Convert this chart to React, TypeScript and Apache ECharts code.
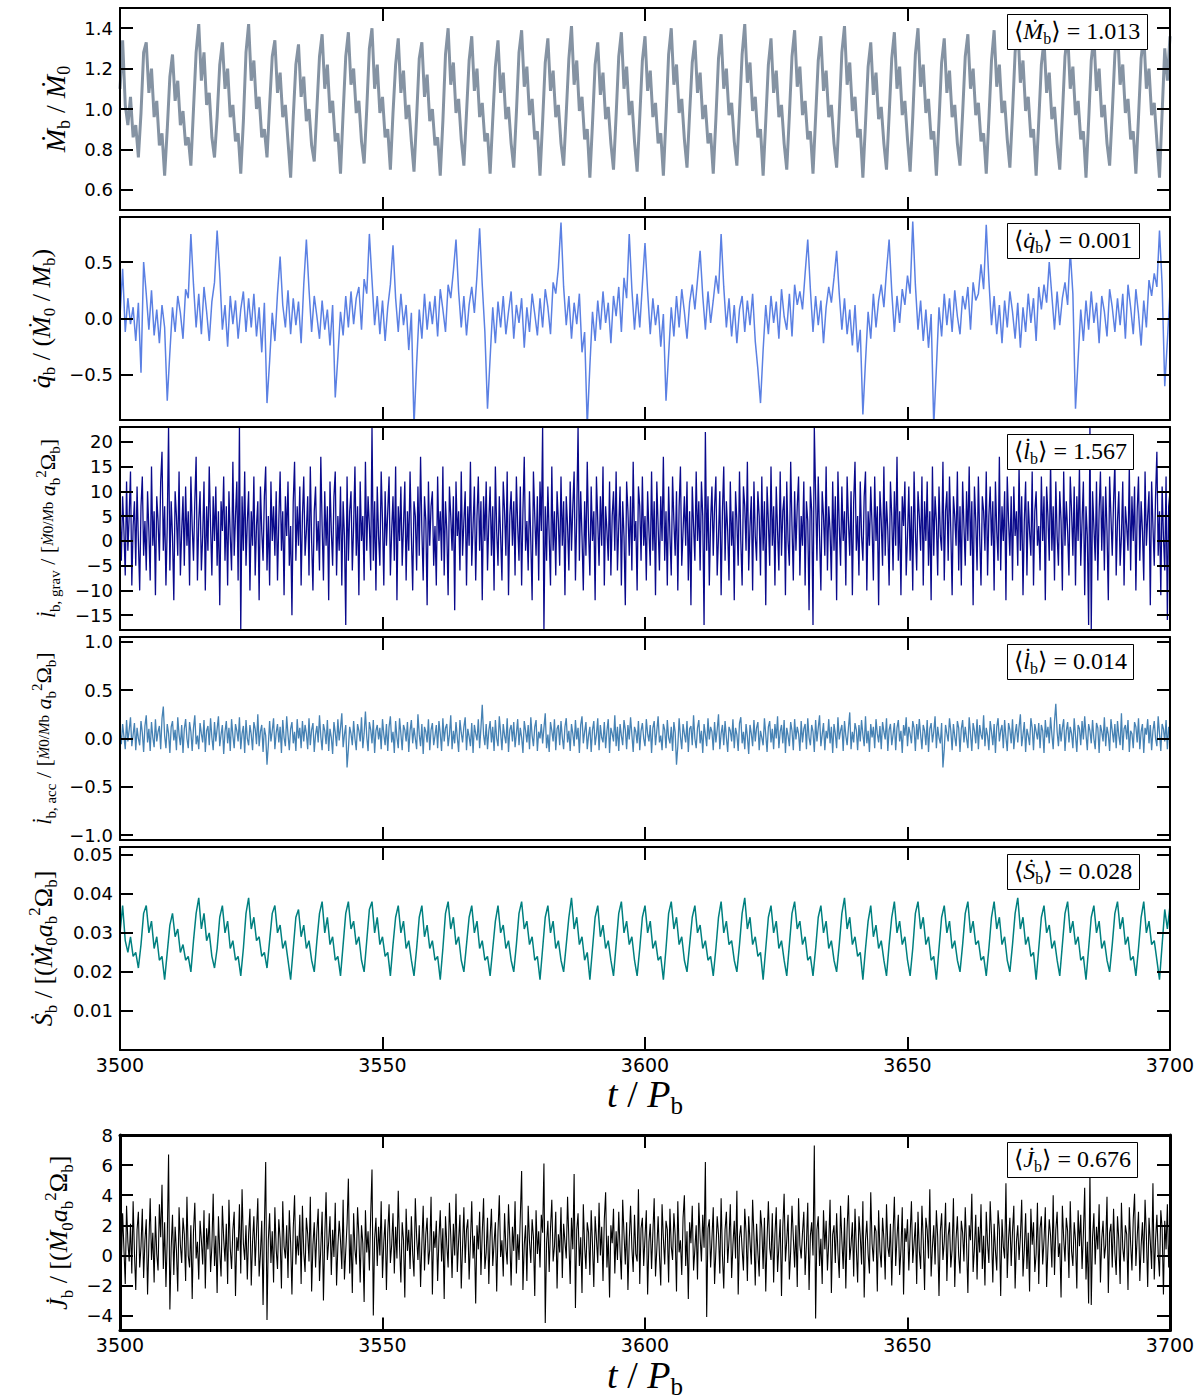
import React, { useEffect, useRef } from "react";
import * as echarts from "echarts";

// time axis
const T0 = 3500;
const X_MIN = 3500;
const X_MAX = 3700;
const X_STEP = 50;
const DT_COARSE = 0.5;  // sampling step of mdot, qdot, sdot
const DT_FINE = 0.25;   // sampling step of lgrav, lacc, jdot

// accretion rate  Mdot_b / Mdot_0   (one line per accretion cycle)
const mdot = [
  1.10,1.34,1.02,0.92,1.06,0.86,0.92,
  0.76,0.98,1.28,1.33,1.08,1.20,0.96,1.04,0.82,0.88,
  0.67,0.90,1.16,1.27,1.04,1.14,0.92,0.99,0.82,0.86,
  0.72,1.00,1.28,1.42,1.14,1.28,1.02,1.08,0.86,
  0.76,0.96,1.22,1.33,1.10,1.20,0.96,1.02,0.84,0.88,
  0.68,0.94,1.28,1.42,1.14,1.24,1.00,1.06,0.86,0.90,
  0.76,1.02,1.26,1.34,1.08,1.18,0.96,1.02,0.84,
  0.66,0.96,1.22,1.32,1.06,1.16,0.94,1.00,0.82,
  0.74,1.00,1.26,1.37,1.10,1.22,0.98,1.04,0.84,0.88,
  0.68,0.98,1.26,1.38,1.12,1.20,0.98,1.04,0.84,
  0.73,1.00,1.30,1.40,1.10,1.22,0.98,1.06,0.86,0.90,
  0.70,0.98,1.22,1.35,1.08,1.19,0.95,1.02,0.84,
  0.69,0.96,1.25,1.33,1.06,1.17,0.94,1.00,0.82,0.86,
  0.67,0.94,1.27,1.40,1.12,1.23,0.98,1.05,0.85,
  0.72,0.98,1.24,1.36,1.09,1.20,0.96,1.03,0.84,0.88,
  0.68,0.95,1.21,1.34,1.08,1.18,0.95,1.01,0.83,
  0.71,0.98,1.28,1.39,1.11,1.21,0.97,1.05,0.85,0.89,
  0.67,0.94,1.23,1.35,1.09,1.19,0.96,1.02,0.83,
  0.72,0.98,1.25,1.41,1.12,1.24,0.99,1.06,0.85,0.90,
  0.66,0.93,1.22,1.33,1.07,1.18,0.95,1.01,0.83,
  0.70,0.97,1.26,1.38,1.10,1.21,0.97,1.04,0.84,
  0.69,0.96,1.24,1.36,1.09,1.19,0.96,1.03,0.83,0.88,
  0.67,0.96,1.27,1.40,1.12,1.22,0.98,1.05,0.85,
  0.71,0.98,1.23,1.34,1.08,1.18,0.95,1.02,0.83,0.88,
  0.68,0.95,1.25,1.37,1.10,1.20,0.97,1.03,0.84,
  0.72,0.99,1.27,1.42,1.13,1.23,0.99,1.06,0.86,0.90,
  0.67,0.94,1.22,1.35,1.08,1.19,0.96,1.02,0.83,
  0.70,0.97,1.26,1.39,1.11,1.21,0.97,1.04,0.85,0.89,
  0.68,0.96,1.24,1.36,1.09,1.19,0.96,1.02,0.83,
  0.71,0.98,1.28,1.41,1.12,1.23,0.99,1.06,0.86,0.90,
  0.66,0.93,1.21,1.33,1.07,1.18,0.95,1.01,0.83,
  0.70,0.97,1.25,1.38,1.10,1.21,0.97,1.04,0.85,
  0.69,0.96,1.27,1.40,1.11,1.22,0.98,1.05,0.85,0.89,
  0.67,0.94,1.23,1.35,1.08,1.19,0.96,1.02,0.83,
  0.72,0.98,1.26,1.37,1.10,1.20,0.97,1.03,0.84,0.88,
  0.68,0.95,1.24,1.39,1.11,1.22,0.98,1.04,0.85,
  0.71,0.98,1.28,1.42,1.13,1.24,0.99,1.06,0.86,0.90,
  0.67,0.94,1.22,1.34,1.08,1.18,0.95,1.01,0.83,
  0.70,0.97,1.26,1.38,1.10,1.21,0.97,1.04,0.85,0.89,
  0.66,0.94,1.24,1.36,1.09,1.20,0.96,1.02,0.83,
  0.72,0.98,1.27,1.40,1.12,1.22,0.98,1.05,0.85,0.89,
  0.68,0.96,1.25,1.37,1.10,1.20,0.97,1.03,0.84,
  0.66,0.98,1.30,1.14,1.36,
];

// qdot_b / (Mdot_0 / M_b)
const qdot = [
  0.02,0.44,-0.12,0.18,-0.05,0.10,-0.20,0.14,-0.48,0.50,0.22,-0.10,0.25,-0.15,0.08,-0.22,0.12,-0.08,-0.73,-0.30,
  0.10,-0.12,0.20,0.05,-0.18,0.26,0.18,0.75,0.30,-0.08,0.22,-0.14,0.28,0.06,-0.20,0.15,0.32,0.78,0.40,-0.10,
  0.12,-0.25,0.20,-0.05,0.16,-0.18,0.08,0.24,-0.12,0.18,-0.08,0.22,-0.16,0.10,-0.30,0.14,-0.75,-0.38,0.05,-0.20,
  0.22,0.55,0.12,-0.08,0.25,-0.14,0.18,-0.06,0.15,-0.22,0.30,0.70,0.26,-0.12,0.20,0.02,-0.18,0.16,-0.10,0.08,
  -0.24,0.12,-0.70,-0.34,0.06,-0.15,0.20,-0.08,0.24,-0.05,0.18,0.28,-0.10,0.35,0.22,0.75,0.34,-0.06,0.20,-0.14,
  0.16,-0.20,0.10,0.30,0.65,0.18,-0.12,0.22,-0.06,0.12,-0.28,0.05,-0.95,-0.40,0.08,-0.18,0.22,-0.10,0.15,-0.05,
  0.20,-0.16,0.26,0.08,-0.12,0.30,0.18,0.42,0.70,0.24,-0.08,0.20,-0.15,0.12,0.28,0.05,0.38,0.80,0.30,-0.12,
  -0.80,-0.35,0.10,-0.22,0.15,-0.08,0.20,-0.14,0.06,0.24,-0.18,0.12,-0.04,0.18,-0.26,0.10,-0.12,0.22,0.04,-0.15,
  0.18,-0.08,0.26,0.10,-0.14,0.32,0.22,0.45,0.85,0.28,-0.06,0.20,-0.18,0.14,-0.05,0.22,-0.30,-0.12,-0.95,-0.42,
  0.06,-0.20,0.16,-0.10,0.24,-0.04,0.14,-0.22,0.20,0.02,0.28,-0.12,0.36,0.18,0.75,0.26,-0.10,0.22,-0.08,0.30,
  0.67,0.24,-0.14,0.18,-0.06,0.12,-0.25,0.04,-0.73,-0.32,0.10,-0.16,0.20,-0.08,0.26,0.06,-0.18,0.14,0.30,0.08,
  0.34,0.60,0.20,-0.10,0.24,-0.04,0.16,0.38,0.22,0.75,0.28,-0.08,0.18,-0.16,0.12,-0.22,0.08,0.20,-0.12,0.16,
  -0.06,0.22,-0.20,-0.45,-0.75,-0.28,0.12,-0.14,0.20,-0.04,0.15,-0.18,0.26,0.02,-0.10,0.22,-0.16,0.30,0.12,0.24,
  0.08,0.40,0.70,0.26,-0.12,0.20,-0.06,0.16,-0.22,0.10,0.28,0.14,0.36,0.60,0.22,-0.10,0.18,-0.14,0.08,-0.24,
  0.12,-0.30,-0.10,-0.85,-0.38,0.06,-0.18,0.22,-0.08,0.16,0.30,0.10,0.42,0.70,0.24,-0.12,0.20,-0.04,0.26,0.12,
  0.38,0.22,0.86,0.30,-0.10,0.16,-0.20,0.08,-0.26,0.04,-0.95,-0.44,0.10,-0.16,0.22,-0.06,0.18,-0.12,0.25,0.02,
  -0.14,0.20,0.08,0.28,-0.10,0.32,0.16,0.22,0.48,0.26,0.83,0.34,-0.06,0.20,-0.14,0.12,-0.22,0.16,-0.08,0.24,
  0.06,-0.18,0.14,-0.26,0.10,-0.12,0.22,-0.04,0.18,-0.20,0.28,0.08,0.30,0.14,0.50,0.20,-0.10,0.24,-0.06,0.18,
  0.32,0.12,0.60,0.22,-0.80,-0.36,0.08,-0.20,0.16,-0.10,0.24,-0.04,0.14,-0.22,0.20,0.06,-0.16,0.26,0.10,-0.12,
  0.18,-0.06,0.22,-0.18,0.30,0.10,-0.14,0.26,0.04,-0.24,0.16,-0.08,0.34,0.20,0.40,0.28,0.78,0.30,-0.60,-0.20,
  0.24,
];

// gravitational torque  ldot_b,grav  (fine sampling)
const lgrav = [
  6,-4,9,2,-7,12,-2,5,14,-9,3,8,-5,11,0,-10,7,13,-3,4,
  -6,10,2,-8,15,-1,6,-11,9,4,-4,12,18,-2,7,-9,3,23,-6,8,
  1,-12,10,5,-3,14,-7,2,9,-5,11,-1,6,-9,13,3,-4,8,17,-8,
  4,10,-6,1,12,-10,7,-2,15,3,-7,9,0,11,-5,6,-13,8,2,13,
  -4,7,-9,10,1,-6,16,-3,5,12,-8,23,-18,9,-2,14,-5,4,10,-10,
  6,-1,13,-7,3,8,-12,11,2,-4,9,15,-6,5,-9,12,0,7,-3,10,
  -8,4,14,-2,6,-11,9,1,12,-5,3,-15,8,16,-4,7,-1,11,-9,5,
  13,-3,2,9,-7,15,0,-10,6,11,-2,4,-6,17,3,-8,10,-1,7,-12,
  12,2,-5,9,14,-7,5,-2,11,-9,8,1,-17,13,-4,6,10,-6,3,15,
  -3,7,-11,12,0,5,-8,16,-2,9,3,-6,23,-4,8,-10,11,1,-5,14,
  4,-9,10,-1,6,13,-7,2,9,-4,15,-12,7,0,11,-5,3,12,-8,6,
  -2,14,1,-10,8,5,-6,11,-3,17,2,-8,9,4,-13,12,-1,7,10,-5,
  3,-9,13,0,6,-4,15,-7,8,2,-11,11,5,-2,9,-14,12,1,6,-6,
  14,-3,4,10,-9,7,-1,16,-5,3,11,-8,5,13,-2,8,-12,9,0,12,
  -6,4,11,-3,7,-10,15,2,-5,9,1,-8,12,6,-3,14,-11,5,10,-1,
  8,-7,13,3,-4,11,-9,6,17,-2,4,-6,10,0,-12,14,5,-3,9,-8,
  12,2,23,-18,7,-4,11,1,-9,15,-2,6,-7,10,4,-5,13,-1,8,-11,
  9,3,-6,12,-2,7,14,-8,5,23,-4,10,1,-10,8,-3,16,2,-7,11,
  0,6,-12,13,4,-5,9,-1,15,-9,7,2,-4,12,-7,5,10,-2,14,-6,
  3,11,-9,8,1,-13,12,6,-3,9,-6,16,0,4,-10,11,7,-4,13,-1,
  5,-8,10,2,-5,14,-2,8,-11,12,3,-6,9,0,17,-4,6,-9,11,1,
  -7,13,4,-3,10,-10,7,15,-5,2,9,-1,12,-8,6,-13,11,3,-4,14,
  0,8,-6,12,5,-17,22,-2,9,-9,4,11,-3,7,13,-7,1,10,-11,6,
  15,-4,8,2,-8,12,-1,6,-12,10,4,-5,14,0,-9,11,7,-2,16,-6,
  3,9,-10,12,1,-4,10,5,-7,13,-2,8,-13,11,4,-5,15,-1,7,-9,
  11,2,-6,14,-3,6,9,-11,12,0,-5,16,3,-8,10,-2,7,13,-7,5,
  -1,12,-9,8,4,-14,11,6,-17,23,9,-4,13,1,-10,10,5,-3,15,-6,
  7,2,-8,12,-2,9,-12,14,3,-5,11,0,6,-9,13,4,-3,10,-11,8,
  16,-2,5,-7,12,1,-4,9,14,-10,6,-1,11,3,-8,13,0,7,-13,10,
  4,-5,15,-3,8,2,-9,12,5,-6,10,-1,17,-4,6,-11,9,3,12,-7,
  1,11,-4,7,-10,14,2,-6,10,5,-2,13,-9,8,0,12,-5,6,-12,15,
  -3,9,4,-7,11,1,-2,16,-8,6,10,-4,13,2,-11,9,5,-1,14,-6,
  7,-9,12,3,-5,10,0,15,-3,8,-13,11,4,-6,13,1,-9,9,6,-2,
  14,-7,5,11,-1,8,-10,12,2,-4,17,-6,7,0,10,-12,13,4,-3,9,
  -8,11,1,6,-5,15,-2,9,-11,4,12,-7,8,2,-3,14,-9,6,10,-1,
  3,-6,13,0,9,-12,11,5,-4,16,-2,7,-8,12,1,-5,10,4,-10,14,
  -1,8,2,-7,13,6,-3,11,-9,9,0,15,-5,4,12,-11,7,1,-17,23,
  -18,10,3,-4,12,-8,6,14,-2,9,-6,11,2,-12,13,5,-3,8,16,-7,
  4,10,-5,1,12,-9,7,3,-2,15,-6,9,0,11,-10,6,13,-4,8,2,
  -8,14,-1,5,10,-13,12,3,-5,9,18,-3,6,-11,11,1,-6,13,-16,7,
  10,
];

// accretion torque  ldot_b,acc  (fine sampling)
const lacc = [
  0.08,-0.06,0.15,0.02,-0.11,0.19,-0.03,0.09,0.22,-0.08,0.04,0.16,-0.12,0.11,0.00,-0.07,0.18,0.06,-0.14,0.13,
  0.24,-0.04,0.10,-0.13,0.17,0.01,-0.09,0.20,-0.03,0.07,0.13,-0.11,0.21,0.33,0.03,-0.10,0.15,0.05,-0.15,0.12,
  0.18,-0.02,0.09,-0.12,0.22,0.04,-0.07,0.14,-0.15,0.10,0.20,0.00,-0.10,0.17,0.07,-0.13,0.11,0.24,-0.06,0.03,
  -0.11,0.16,0.05,-0.04,0.19,-0.14,0.08,0.13,-0.07,0.21,0.01,-0.12,0.17,-0.03,0.10,0.23,-0.08,0.04,0.14,-0.16,
  0.07,0.18,-0.05,0.11,-0.13,0.20,0.03,-0.10,0.15,0.08,-0.03,0.22,-0.11,0.05,0.13,-0.15,0.19,0.00,-0.07,0.14,
  0.04,-0.12,0.17,0.10,-0.06,0.25,-0.08,0.07,0.14,-0.14,0.11,0.03,-0.27,-0.07,0.18,-0.03,0.08,0.21,-0.11,0.06,
  0.15,-0.04,0.12,-0.15,0.19,0.01,-0.08,0.23,0.04,-0.12,0.10,0.17,-0.05,0.07,-0.13,0.20,0.00,0.11,-0.10,0.18,
  -0.03,0.14,0.05,-0.11,0.21,-0.07,0.09,0.16,-0.14,0.04,0.13,-0.04,0.24,0.02,-0.12,0.15,0.08,-0.06,0.19,-0.13,
  0.10,0.01,-0.16,0.17,0.06,-0.08,0.20,-0.02,0.11,0.26,-0.09,0.04,0.14,-0.30,-0.11,0.12,0.05,-0.07,0.18,0.00,
  -0.12,0.15,0.08,-0.03,0.22,-0.10,0.05,0.28,0.02,-0.13,0.17,0.09,-0.05,0.19,-0.15,0.08,0.14,-0.01,0.11,-0.11,
  0.20,0.04,-0.07,0.15,-0.13,0.12,0.23,-0.04,0.07,-0.15,0.18,0.01,-0.10,0.21,0.05,-0.12,0.14,0.09,-0.03,0.17,
  -0.14,0.08,0.19,-0.05,0.11,0.00,-0.11,0.25,0.04,-0.08,0.15,-0.16,0.12,0.07,-0.04,0.20,-0.12,0.09,0.16,-0.07,
  0.03,0.14,-0.10,0.18,0.05,-0.13,0.21,-0.03,0.11,0.15,-0.08,0.04,0.24,-0.11,0.08,-0.05,0.17,0.01,-0.14,0.19,
  0.06,-0.04,0.12,0.22,-0.12,0.10,0.02,-0.08,0.16,-0.15,0.14,0.05,-0.02,0.20,-0.10,0.11,0.35,0.04,-0.07,0.15,
  -0.11,0.08,0.18,-0.04,0.12,-0.13,0.19,0.00,-0.08,0.23,0.06,-0.12,0.15,0.03,-0.05,0.21,-0.14,0.09,0.14,-0.03,
  0.17,-0.09,0.05,0.20,-0.07,0.11,0.01,-0.15,0.18,0.08,-0.04,0.14,-0.11,0.22,0.03,-0.08,0.12,0.19,-0.13,0.07,
  0.00,0.15,-0.05,0.11,0.26,-0.10,0.04,-0.14,0.17,0.08,-0.03,0.20,-0.12,0.10,0.14,-0.07,0.18,0.01,-0.11,0.12,
  0.21,-0.04,0.08,-0.13,0.15,0.05,-0.08,0.19,-0.01,0.11,-0.15,0.14,0.23,-0.05,0.07,0.17,-0.11,0.03,0.12,-0.14,
  0.09,0.18,-0.07,0.04,0.21,-0.12,0.14,0.01,-0.04,0.17,-0.10,0.08,0.20,-0.15,0.11,0.05,-0.03,0.24,-0.08,0.12,
  -0.13,0.15,0.03,-0.07,0.19,0.09,-0.11,0.14,-0.01,0.22,0.04,-0.14,0.12,0.07,-0.05,0.18,-0.12,0.08,0.16,0.00,
  -0.08,0.20,0.05,-0.03,0.14,-0.15,0.11,0.18,-0.07,0.08,0.23,-0.04,0.03,-0.12,0.15,0.09,-0.10,0.19,0.01,-0.05,
  0.12,-0.13,0.17,0.06,-0.27,-0.08,0.21,0.02,-0.11,0.15,0.05,-0.04,0.18,-0.14,0.10,0.13,-0.07,0.24,0.00,-0.10,
  0.11,0.19,-0.05,0.08,-0.15,0.15,0.04,-0.08,0.21,-0.01,0.12,0.07,-0.12,0.17,-0.04,0.09,0.25,-0.11,0.05,0.14,
  -0.07,0.18,0.01,-0.14,0.12,0.08,-0.03,0.20,-0.10,0.11,0.04,-0.13,0.16,0.22,-0.05,0.07,-0.11,0.15,0.02,-0.16,
  0.14,0.05,-0.08,0.19,-0.03,0.11,0.17,-0.12,0.08,0.01,-0.07,0.21,0.04,-0.14,0.12,0.18,-0.04,0.10,-0.11,0.15,
  0.00,0.23,-0.10,0.07,0.14,-0.05,0.19,-0.15,0.11,0.03,-0.08,0.17,0.08,-0.12,0.20,-0.01,0.12,0.05,-0.13,0.18,
  -0.04,0.10,0.15,-0.11,0.21,0.01,-0.07,0.14,0.07,-0.14,0.19,-0.03,0.11,0.24,-0.08,0.04,0.16,-0.12,0.08,0.00,
  0.20,-0.05,0.12,-0.15,0.15,0.05,-0.10,0.22,-0.01,0.08,0.14,-0.13,0.18,0.03,-0.07,0.11,0.27,-0.11,0.07,-0.04,
  0.16,0.09,-0.12,0.14,-0.03,0.19,0.04,-0.08,0.23,-0.05,0.08,-0.14,0.15,0.01,0.12,-0.10,0.20,0.05,-0.04,0.13,
  -0.11,0.17,0.07,-0.01,0.21,-0.13,0.09,0.15,-0.07,0.04,0.16,-0.12,0.11,0.19,-0.03,0.08,-0.15,0.14,0.03,0.22,
  -0.08,0.12,0.05,-0.05,0.18,0.11,-0.13,0.15,-0.01,0.20,0.04,-0.11,0.14,0.08,-0.07,0.19,-0.14,0.10,0.16,-0.04,
  0.07,0.23,-0.10,0.12,0.01,-0.05,0.16,-0.30,-0.11,0.14,0.05,-0.03,0.21,0.08,-0.12,0.15,0.02,-0.08,0.18,0.11,
  -0.14,0.10,0.19,-0.04,0.12,0.00,-0.10,0.22,0.05,-0.13,0.16,0.08,-0.05,0.20,-0.11,0.14,0.04,-0.01,0.24,-0.08,
  0.11,0.03,-0.12,0.18,0.07,-0.07,0.15,-0.15,0.12,0.21,-0.03,0.08,0.14,-0.10,0.19,0.01,-0.13,0.16,0.09,-0.05,
  0.20,-0.11,0.05,0.15,-0.04,0.12,0.25,-0.08,0.04,0.17,-0.14,0.10,0.03,-0.07,0.21,0.11,-0.12,0.15,0.07,-0.01,
  0.16,-0.10,0.14,0.08,-0.15,0.19,0.01,0.12,-0.05,0.22,0.04,-0.11,0.18,0.36,0.07,-0.08,0.15,-0.03,0.11,0.20,
  -0.13,0.08,0.17,-0.04,0.12,0.05,-0.10,0.21,0.03,-0.14,0.14,0.10,-0.07,0.18,-0.01,0.23,0.04,-0.12,0.15,0.08,
  -0.05,0.19,0.00,-0.11,0.16,0.11,-0.15,0.14,0.07,-0.03,0.22,-0.08,0.12,0.04,-0.13,0.20,0.08,-0.04,0.15,-0.10,
  0.18,0.03,-0.07,0.26,-0.12,0.10,0.14,-0.01,0.19,-0.14,0.08,0.05,-0.10,0.17,0.12,-0.04,0.21,-0.11,0.07,0.15,
  -0.15,0.11,0.04,0.20,-0.05,0.14,-0.12,0.08,0.18,0.00,-0.08,0.23,0.05,-0.13,0.15,0.10,-0.03,0.19,-0.11,0.12,
  0.07,
];

// spin torque  Sdot_b   (one line per accretion cycle)
const sdot = [
  0.030,0.037,0.028,0.025,0.029,0.024,0.025,
  0.021,0.027,0.035,0.037,0.030,0.033,0.026,0.029,0.023,0.024,
  0.018,0.025,0.032,0.035,0.029,0.031,0.025,0.027,0.023,0.024,
  0.020,0.028,0.035,0.039,0.031,0.035,0.028,0.030,0.024,
  0.021,0.026,0.034,0.037,0.030,0.033,0.026,0.028,0.023,0.024,
  0.019,0.026,0.035,0.039,0.031,0.034,0.028,0.029,0.024,0.025,
  0.021,0.028,0.035,0.037,0.030,0.032,0.026,0.028,0.023,
  0.018,0.026,0.034,0.036,0.029,0.032,0.026,0.028,0.023,
  0.020,0.028,0.035,0.038,0.030,0.034,0.027,0.029,0.023,0.024,
  0.019,0.027,0.035,0.038,0.031,0.033,0.027,0.029,0.023,
  0.020,0.028,0.036,0.038,0.030,0.034,0.027,0.029,0.024,0.025,
  0.019,0.027,0.034,0.037,0.030,0.033,0.026,0.028,0.023,
  0.019,0.026,0.034,0.037,0.029,0.032,0.026,0.028,0.023,0.024,
  0.018,0.026,0.035,0.038,0.031,0.034,0.027,0.029,0.023,
  0.020,0.027,0.034,0.037,0.030,0.033,0.026,0.028,0.023,0.024,
  0.019,0.026,0.033,0.037,0.030,0.032,0.026,0.028,0.023,
  0.020,0.027,0.035,0.038,0.031,0.033,0.027,0.029,0.023,0.024,
  0.018,0.026,0.034,0.037,0.030,0.033,0.026,0.028,0.023,
  0.020,0.027,0.034,0.039,0.031,0.034,0.027,0.029,0.023,0.025,
  0.018,0.026,0.034,0.037,0.029,0.032,0.026,0.028,0.023,
  0.019,0.027,0.035,0.038,0.030,0.033,0.027,0.029,0.023,
  0.019,0.026,0.034,0.037,0.030,0.033,0.026,0.028,0.023,0.024,
  0.018,0.026,0.035,0.038,0.031,0.034,0.027,0.029,0.023,
  0.020,0.027,0.034,0.037,0.030,0.032,0.026,0.028,0.023,0.024,
  0.019,0.026,0.034,0.038,0.030,0.033,0.027,0.028,0.023,
  0.020,0.027,0.035,0.039,0.031,0.034,0.027,0.029,0.024,0.025,
  0.018,0.026,0.034,0.037,0.030,0.033,0.026,0.028,0.023,
  0.019,0.027,0.035,0.038,0.031,0.033,0.027,0.029,0.023,0.024,
  0.019,0.026,0.034,0.037,0.030,0.033,0.026,0.028,0.023,
  0.020,0.027,0.035,0.039,0.031,0.034,0.027,0.029,0.024,0.025,
  0.018,0.026,0.033,0.037,0.029,0.032,0.026,0.028,0.023,
  0.019,0.027,0.034,0.038,0.030,0.033,0.027,0.029,0.023,
  0.019,0.026,0.035,0.038,0.031,0.034,0.027,0.029,0.023,0.024,
  0.018,0.026,0.034,0.037,0.030,0.033,0.026,0.028,0.023,
  0.020,0.027,0.035,0.038,0.030,0.033,0.027,0.028,0.023,0.024,
  0.019,0.026,0.034,0.038,0.031,0.034,0.027,0.029,0.023,
  0.020,0.027,0.035,0.039,0.031,0.034,0.027,0.029,0.024,0.025,
  0.018,0.026,0.034,0.037,0.030,0.032,0.026,0.028,0.023,
  0.019,0.027,0.035,0.038,0.030,0.033,0.027,0.029,0.023,0.024,
  0.018,0.026,0.034,0.037,0.030,0.033,0.026,0.028,0.023,
  0.020,0.027,0.035,0.038,0.031,0.034,0.027,0.029,0.023,0.024,
  0.019,0.026,0.034,0.038,0.030,0.033,0.027,0.028,0.023,
  0.018,0.027,0.036,0.031,0.037,
];

// total torque  Jdot_b  (fine sampling)
const jdot = [
  1.2,-0.6,2.8,0.4,-1.9,3.3,0.9,-0.4,2.1,-1.2,3.6,0.2,-2.3,1.7,2.9,-0.8,0.6,3.1,-1.5,1.0,
  2.4,-2.6,0.8,3.8,-0.3,1.5,-1.8,2.6,0.1,-1.0,3.4,1.2,4.7,-0.9,2.2,-2.1,1.1,6.7,-3.6,0.5,
  2.7,-1.3,1.9,0.3,-2.4,3.2,0.7,-0.5,2.5,1.4,-1.7,3.9,0.0,-0.8,2.0,-2.9,1.6,3.5,-0.2,0.9,
  -1.6,2.3,1.0,-0.6,3.0,-2.2,1.8,0.4,2.8,-1.1,0.6,4.1,-0.7,1.3,-2.5,2.6,0.2,-1.4,3.3,1.1,
  -0.4,2.1,-1.9,3.7,0.5,-0.9,1.7,2.9,-2.7,1.2,0.3,3.4,-1.2,4.4,0.8,-0.3,2.0,-1.6,1.4,3.1,
  -2.0,0.9,2.6,-0.7,1.5,3.8,-1.4,0.1,2.3,-3.3,1.9,6.2,-4.3,1.0,2.8,-0.5,1.6,-1.8,3.2,0.4,
  -0.9,2.4,1.1,-2.2,3.6,0.6,-0.2,2.0,-1.5,3.0,0.8,-2.6,1.8,4.0,-0.6,1.3,0.0,2.7,-1.9,3.3,
  0.2,-1.1,2.5,1.4,-0.4,3.9,-2.4,0.7,2.2,-0.8,1.6,3.1,-1.7,0.5,2.9,-3.0,1.2,4.2,-0.3,0.9,
  2.6,-1.3,1.7,-0.1,3.5,-2.0,0.6,2.3,1.0,-0.9,3.7,-1.6,0.3,2.1,5.1,-1.2,1.4,-2.5,2.8,0.4,
  -0.6,3.2,1.3,-1.8,2.0,0.8,-3.1,3.0,0.2,1.6,-1.0,2.7,5.7,-4.0,1.1,2.5,-0.7,1.9,0.0,3.6,
  -1.5,0.9,2.4,-2.3,1.5,3.4,-0.5,0.7,2.8,-1.2,1.9,-0.2,4.3,0.6,-1.8,2.2,1.0,-2.8,3.1,0.3,
  1.7,-0.9,2.6,0.1,-1.4,3.8,1.2,-0.3,2.0,-2.1,0.8,3.3,-1.0,1.4,2.5,-0.6,0.4,3.9,-2.6,1.6,
  0.5,2.3,-1.7,1.1,3.0,-0.4,1.8,-2.9,2.6,0.7,-0.8,3.5,1.3,-1.5,2.1,0.0,4.1,-1.1,1.0,2.7,
  -2.2,0.6,3.2,-0.5,1.7,2.4,-1.6,0.9,3.6,-0.2,1.3,-3.2,2.0,0.4,2.9,-1.3,1.5,3.8,-0.9,0.2,
  2.5,-1.9,1.2,3.1,-0.7,0.8,2.2,-2.4,1.6,4.0,-0.1,1.0,-1.4,2.8,0.5,-0.6,3.4,1.1,-2.0,1.9,
  0.3,3.6,-1.2,1.4,-0.3,2.6,5.6,-2.3,0.7,2.0,-1.7,3.3,0.9,-0.5,2.4,1.2,-2.7,3.0,0.1,1.6,
  -0.8,2.7,1.5,6.1,-4.5,0.8,2.3,-1.1,1.8,3.7,-0.4,0.6,2.9,-2.2,1.4,0.2,3.2,-1.5,2.1,0.9,
  -0.2,3.9,1.0,-1.9,2.5,0.4,5.4,-3.5,1.7,2.8,-0.7,1.2,-2.5,3.4,0.6,-0.9,2.2,1.5,-1.3,3.0,
  0.7,-2.1,2.6,1.1,-0.5,3.5,0.0,1.9,-1.7,2.4,4.2,-0.8,1.3,-2.8,2.0,0.8,3.1,-1.2,1.6,-0.3,
  2.9,0.3,-1.6,3.7,1.4,-0.6,2.2,-2.3,1.0,3.3,0.5,-1.1,2.7,0.1,-0.4,4.4,-1.9,1.8,2.5,-0.7,
  1.2,3.0,-2.6,0.9,2.1,-0.9,1.5,3.8,-1.4,0.4,2.6,0.0,-2.0,3.4,1.1,-0.6,2.3,1.7,-1.8,3.1,
  0.6,-0.3,2.8,1.3,-2.4,3.6,0.2,1.0,-1.3,2.5,4.0,-0.7,1.6,-2.9,2.2,0.8,3.3,-1.0,0.4,2.0,
  -1.6,3.5,1.2,-0.4,2.7,0.5,6.2,-4.1,1.8,2.4,-0.8,1.1,3.2,-1.9,0.3,2.6,1.4,-1.2,3.8,0.0,
  -2.2,1.7,2.9,-0.5,1.0,3.4,-1.5,0.7,2.3,-0.2,4.3,-2.6,1.2,2.0,0.4,-1.0,3.1,1.5,-1.7,2.6,
  0.9,-0.6,3.7,1.3,-2.0,2.1,0.2,-1.4,3.0,1.8,-0.9,2.5,-2.4,1.1,3.6,0.5,-0.3,2.8,-1.8,1.4,
  3.2,-1.1,0.6,2.4,-2.7,1.9,4.1,-0.4,1.0,2.7,-1.6,0.3,3.3,1.2,-0.8,2.0,-2.1,3.8,0.7,-0.2,
  1.5,2.9,-1.3,0.8,3.5,-2.3,1.3,2.2,0.0,7.3,-4.2,1.7,2.6,-0.7,1.1,-1.9,3.0,0.4,2.3,-1.0,
  0.9,3.7,-2.5,1.4,2.0,-0.5,2.8,0.2,-1.5,3.3,1.0,-0.9,2.5,-2.2,1.8,4.0,-0.3,0.7,2.2,-1.4,
  3.1,0.5,-1.8,2.6,1.3,-0.6,3.6,-2.8,1.0,2.3,0.1,-1.2,4.2,0.8,-0.4,2.0,1.6,-2.4,3.0,0.3,
  -0.8,2.5,1.1,-1.6,3.4,0.6,-0.1,2.1,-2.0,1.5,3.9,-0.7,1.2,2.7,-1.3,0.4,3.2,-2.6,1.8,0.9,
  2.4,-1.0,1.4,3.6,-0.5,0.8,2.2,-1.9,2.9,0.3,-0.9,3.3,1.0,-2.3,2.5,1.7,-0.2,4.4,-1.4,0.6,
  2.0,-0.6,3.0,1.2,-2.7,1.6,2.8,-0.3,0.9,3.5,-1.7,1.3,2.2,-0.8,0.4,3.8,-2.1,1.1,2.6,0.0,
  -1.2,2.3,1.5,-0.4,3.2,0.7,-2.5,2.0,1.0,4.1,-1.1,0.5,2.7,-1.6,1.9,0.2,3.4,-0.9,1.3,-2.0,
  2.9,0.8,-0.5,3.6,1.4,-1.8,2.1,0.3,-1.0,3.0,1.7,-2.7,2.4,0.6,-0.2,4.8,-1.5,1.1,2.5,-0.7,
  1.6,3.3,-2.2,0.9,2.0,-0.3,1.2,3.7,-1.4,0.4,2.8,-0.9,1.5,-2.4,3.1,0.7,2.2,-1.1,0.1,3.5,
  -1.9,1.8,2.6,-0.6,1.0,3.2,-2.1,0.5,2.4,1.3,-0.8,4.0,-1.3,1.7,2.9,-0.1,0.8,-2.8,3.3,1.1,
  -0.4,2.5,1.6,-1.5,3.6,0.3,-0.7,2.2,1.0,-2.2,3.0,0.6,2.7,-0.9,1.4,4.5,-1.6,0.9,-3.2,5.5,
  -3.3,1.2,2.8,-0.6,1.9,0.4,3.4,-1.8,1.1,2.3,-0.2,0.7,3.9,-2.5,1.5,2.1,-0.8,3.1,0.2,-1.3,
  2.6,1.0,-1.9,3.5,0.5,-0.4,2.0,1.4,-2.3,3.2,0.8,-1.0,2.4,4.1,-0.7,1.2,2.9,-1.7,0.6,2.2,
  -0.5,3.7,1.3,-2.1,2.5,0.9,-0.9,4.8,-1.6,1.0,2.7,0.1,-1.4,3.0,1.8,-2.6,2.3,0.4,3.4,-0.8,
  1.6,
];

// y tick values of each panel
const mdotTicks = [0.6, 0.8, 1.0, 1.2, 1.4];
const qdotTicks = [-0.5, 0, 0.5];
const lgravTicks = [-15, -10, -5, 0, 5, 10, 15, 20];
const laccTicks = [-1, -0.5, 0, 0.5, 1];
const sdotTicks = [0.01, 0.02, 0.03, 0.04, 0.05];
const jdotTicks = [-4, -2, 0, 2, 4, 6, 8];

// time-averaged values shown in the boxes
const meanLabels = ["1.013", "0.001", "1.567", "0.014", "0.028", "0.676"];

const SERIF = "'Liberation Serif', 'DejaVu Serif', 'DejaVu Sans', serif";
const SANS = "'DejaVu Sans', sans-serif";

function rich(S: number) {
  const s = Math.round(S * 0.66);
  const L = Math.round(S * 1.3);
  const base = { fontFamily: SERIF, fontWeight: "normal", color: "#000" };
  return {
    m: { ...base, fontStyle: "italic", fontSize: S, lineHeight: L },
    r: { ...base, fontSize: S, lineHeight: L },
    s: { ...base, fontSize: s, lineHeight: s, verticalAlign: "bottom" },
    p: { ...base, fontSize: s, lineHeight: s, verticalAlign: "top" },
    f: { ...base, fontStyle: "italic", fontSize: s, lineHeight: s },
    fr: { ...base, fontSize: s, lineHeight: s },
  };
}

const TAIL = "{r| / [(}{m|Ṁ}{s|0}{m|a}{s|b}{p|2}{r|Ω}{s|b}{r|]}";
const FRAC_TAIL = "{r| / [}{f|Ṁ}{fr|0}{fr|/}{f|M}{fr|b}{m| a}{s|b}{p|2}{r|Ω}{s|b}{r|]}";

const panels = [
  {
    data: mdot, dt: DT_COARSE, ticks: mdotTicks, min: 0.5, max: 1.5, digits: 1,
    color: "#8593a3", width: 3, top: 8, height: 202, frame: 2,
    name: "{m|Ṁ}{s|b}{r| / }{m|Ṁ}{s|0}", nameSize: 28, nameGap: 44,
    sym: "{m|Ṁ}{s|b}", legendTop: 11, xLabels: false,
  },
  {
    data: qdot, dt: DT_COARSE, ticks: qdotTicks, min: -0.9, max: 0.9, digits: 1,
    color: "#5b80e3", width: 1.5, top: 217, height: 203, frame: 2,
    name: "{m|q\u0307}{s|b}{r| / (}{m|Ṁ}{s|0}{r| / }{m|M}{s|b}{r|)}", nameSize: 26, nameGap: 62,
    sym: "{m|q\u0307}{s|b}", legendTop: 220, xLabels: false,
  },
  {
    data: lgrav, dt: DT_FINE, ticks: lgravTicks, min: -18, max: 23, digits: 0,
    color: "#0a0a8c", width: 1.3, top: 427, height: 203, frame: 2,
    name: "{m|l\u0307}{s|b, grav}" + FRAC_TAIL, nameSize: 22, nameGap: 58,
    sym: "{m|l\u0307}{s|b}", legendTop: 431, xLabels: false,
  },
  {
    data: lacc, dt: DT_FINE, ticks: laccTicks, min: -1.05, max: 1.05, digits: 1,
    color: "#4682b4", width: 1.3, top: 637, height: 203, frame: 2,
    name: "{m|l\u0307}{s|b, acc}" + FRAC_TAIL, nameSize: 22, nameGap: 58,
    sym: "{m|l\u0307}{s|b}", legendTop: 641, xLabels: false,
  },
  {
    data: sdot, dt: DT_COARSE, ticks: sdotTicks, min: 0, max: 0.052, digits: 2,
    color: "#008080", width: 1.5, top: 847, height: 203, frame: 2,
    name: "{m|Ṡ}{s|b}" + TAIL, nameSize: 26, nameGap: 60,
    sym: "{m|Ṡ}{s|b}", legendTop: 851, xLabels: true,
  },
  {
    data: jdot, dt: DT_FINE, ticks: jdotTicks, min: -5, max: 8, digits: 0,
    color: "#000000", width: 1.1, top: 1135, height: 202, frame: 3,
    name: "{m|J\u0307}{s|b}" + TAIL, nameSize: 26, nameGap: 44,
    sym: "{m|J\u0307}{s|b}", legendTop: 1139, xLabels: true,
  },
];

const X_NAME = "{m|t}{r| / }{m|P}{s|b}";

function buildOption() {
  const grid: any[] = [];
  const xAxis: any[] = [];
  const yAxis: any[] = [];
  const series: any[] = [];
  const title: any[] = [];

  panels.forEach((p, k) => {
    grid.push({ left: 120, width: 1050, top: p.top, height: p.height });
    const axisLine = { show: true, onZero: false, lineStyle: { color: "#000", width: p.frame } };
    const tick = { show: true, inside: true, length: 13, lineStyle: { color: "#000", width: 2 } };
    const fmt = (v: number) => v.toFixed(p.digits).replace("-", "\u2212");

    xAxis.push({
      gridIndex: k, type: "value", position: "bottom",
      min: X_MIN, max: X_MAX, interval: X_STEP,
      axisLine, axisTick: tick, splitLine: { show: false },
      axisLabel: {
        show: p.xLabels, margin: 5, fontFamily: SANS, fontSize: 19, color: "#000",
        showMinLabel: true, showMaxLabel: true,
        formatter: (v: number) => String(v),
      },
      name: p.xLabels ? X_NAME : "",
      nameLocation: "middle", nameGap: 17,
      nameTextStyle: { rich: rich(38) },
      z: 5,
    });
    xAxis.push({
      gridIndex: k, type: "value", position: "top",
      min: X_MIN, max: X_MAX, interval: X_STEP,
      axisLine, axisTick: tick, splitLine: { show: false },
      axisLabel: { show: false }, z: 5,
    });
    yAxis.push({
      gridIndex: k, type: "value", position: "left",
      min: p.min, max: p.max,
      axisLine, axisTick: { ...tick, customValues: p.ticks },
      splitLine: { show: false },
      axisLabel: {
        customValues: p.ticks, formatter: fmt, margin: 7,
        fontFamily: SANS, fontSize: 18, color: "#000",
      },
      name: p.name, nameLocation: "middle", nameRotate: 90, nameGap: p.nameGap,
      nameTextStyle: { rich: rich(p.nameSize) },
      z: 5,
    });
    yAxis.push({
      gridIndex: k, type: "value", position: "right",
      min: p.min, max: p.max,
      axisLine, axisTick: { ...tick, customValues: p.ticks },
      splitLine: { show: false }, axisLabel: { show: false }, z: 5,
    });
    series.push({
      type: "line",
      xAxisIndex: 2 * k, yAxisIndex: 2 * k,
      data: p.data.map((v, i) => [T0 + i * p.dt, v]),
      showSymbol: false, symbol: "none",
      lineStyle: { color: p.color, width: p.width },
      itemStyle: { color: p.color },
      clip: true, silent: true,
    });
    title.push({
      text: "{r|\u27E8}" + p.sym + "{r|\u27E9 = " + meanLabels[k] + "}",
      left: 1007, top: p.legendTop,
      backgroundColor: "#fff", borderColor: "#000", borderWidth: 1,
      padding: [4, 7, 4, 7],
      textStyle: { fontWeight: "normal", rich: rich(24) },
      z: 10,
    });
  });

  return {
    animation: false,
    backgroundColor: "#fff",
    title, grid, xAxis, yAxis, series,
  };
}

export default function App() {
  const ref = useRef<HTMLDivElement>(null);
  useEffect(() => {
    if (!ref.current) return;
    const chart = echarts.init(ref.current, null, { renderer: "svg" });
    chart.setOption(buildOption() as any);
    return () => chart.dispose();
  }, []);
  return (
    <div
      ref={ref}
      style={{ position: "absolute", left: 0, top: 0, width: 1200, height: 1400, background: "#fff" }}
    />
  );
}
